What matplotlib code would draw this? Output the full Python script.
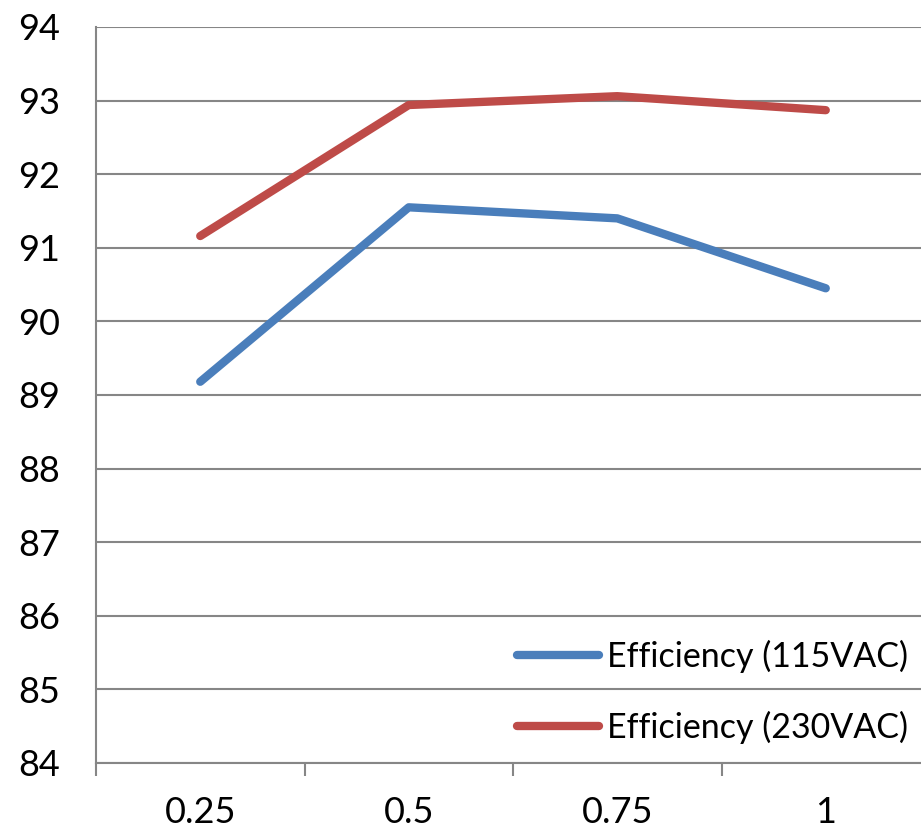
import matplotlib
matplotlib.use("Agg")
import matplotlib.pyplot as plt
from matplotlib.ticker import FixedLocator

categories = ["0.25", "0.5", "0.75", "1"]
eff_115 = [89.18, 91.55, 91.40, 90.45]
eff_230 = [91.16, 92.94, 93.06, 92.87]
series_names = ["Efficiency (115VAC)", "Efficiency (230VAC)"]
yticks = list(range(84, 95))

plt.rcParams['font.family'] = ['Lato', 'DejaVu Sans']

W, H = 921, 832
fig = plt.figure(figsize=(W / 100, H / 100), dpi=100)
ax = fig.add_axes([96/W, 1-763/H, 834/W, (763-27)/H])

x = list(range(len(categories)))
l1, = ax.plot(x, eff_115, color="#4A7EBB", lw=6, solid_capstyle="round", solid_joinstyle="round", label=series_names[0])
l2, = ax.plot(x, eff_230, color="#BE4B48", lw=6, solid_capstyle="round", solid_joinstyle="round", label=series_names[1])

ax.set_xlim(-0.5, len(categories) - 0.5)
ax.set_ylim(84, 94)
ax.set_yticks(yticks)
ax.set_yticklabels([str(v) for v in yticks])
ax.set_xticks(x)
ax.set_xticklabels(categories)
ax.xaxis.set_minor_locator(FixedLocator([i - 0.5 for i in range(len(categories) + 1)]))

ax.grid(axis="y", color="#868686", lw=1.5)
ax.set_axisbelow(True)
for s in ["top", "right"]:
    ax.spines[s].set_visible(False)
ax.spines["left"].set_color("#868686")
ax.spines["left"].set_linewidth(1.5)
ax.spines["bottom"].set_color("#868686")
ax.spines["bottom"].set_linewidth(1.5)

ax.tick_params(axis="y", length=0, pad=26, labelsize=26)
ax.tick_params(axis="x", which="major", length=0, pad=24, labelsize=26)
ax.tick_params(axis="x", which="minor", length=9, width=1.5, color="#868686", direction="out")

# one legend entry per row, anchored at the reference row positions (pixels from top)
legend_rows = [(l1, series_names[0], 656), (l2, series_names[1], 727)]
legs = []
for handle, name, row_y in legend_rows:
    lg = ax.legend([handle], [name], loc="center left", bbox_to_anchor=(517/W, 1-row_y/H),
                   bbox_transform=fig.transFigure, frameon=False, fontsize=24.5,
                   handlelength=2.4, handletextpad=0.25, borderaxespad=0, borderpad=0)
    legs.append(lg)
for lg in legs[:-1]:
    ax.add_artist(lg)

fig.savefig("out.png", dpi=100)
